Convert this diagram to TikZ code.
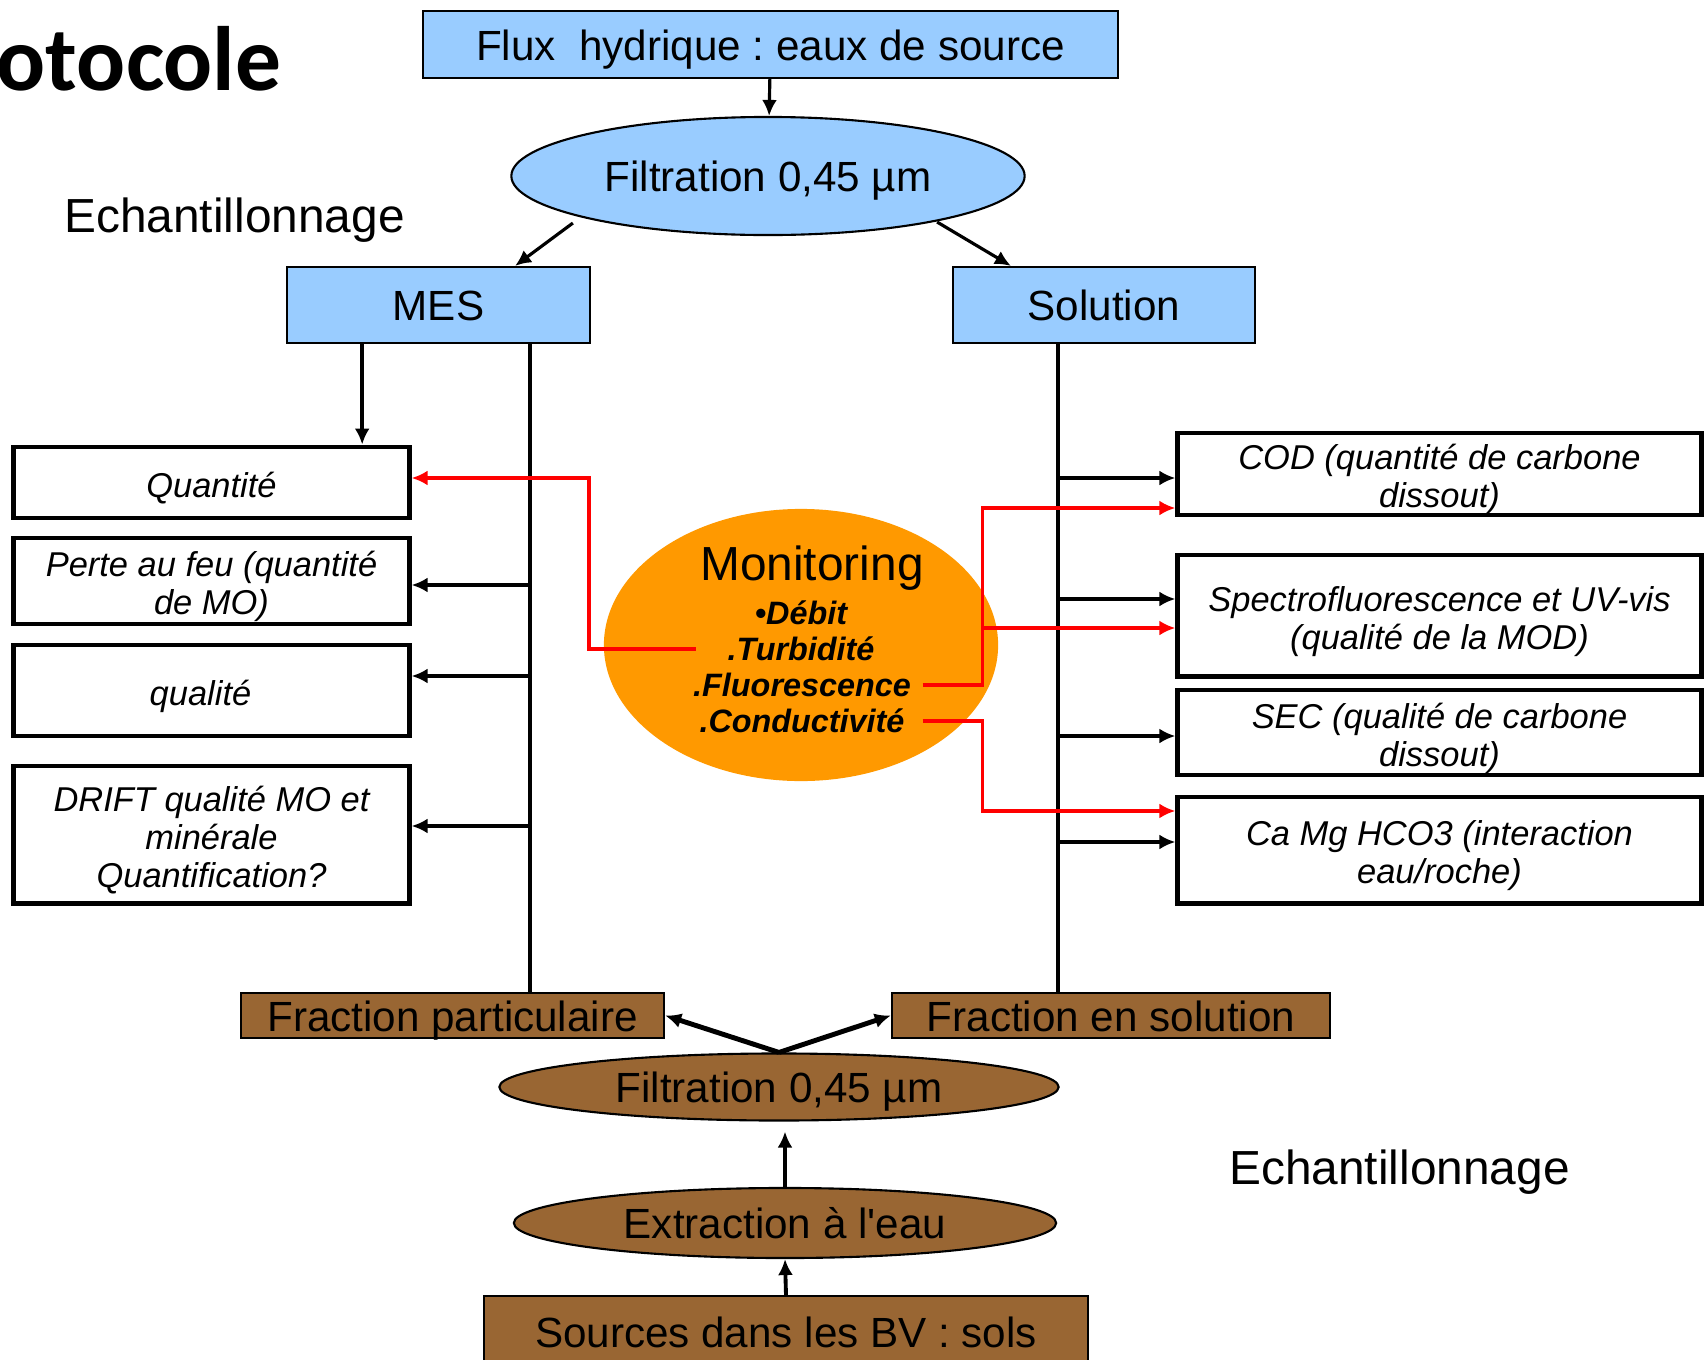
\documentclass[tikz,border=0pt]{standalone}
\usepackage{fontspec}
\setmainfont{Liberation Sans}
\newfontfamily\titlefont{Carlito}
\usepackage{xcolor}
\usepackage{tikz}
\usetikzlibrary{shapes.geometric,calc,arrows.meta}

\definecolor{skyfill}{HTML}{99CCFF}
\definecolor{soilfill}{HTML}{996633}
\definecolor{monifill}{HTML}{FF9900}

\begin{document}
\frenchspacing
\begin{tikzpicture}[x=0.01cm, y=-0.01cm,
    bluebox/.style={draw, rectangle, fill=skyfill, line width=0.6pt, inner sep=0pt, text height=0.98em, text depth=0.08em, font=\fontsize{12}{14}\selectfont},
    soilbox/.style={draw, rectangle, fill=soilfill, line width=0.6pt, inner sep=0pt, text height=0.98em, text depth=0.08em, font=\fontsize{12}{14}\selectfont},
    filtre/.style={draw, ellipse, line width=0.6pt, inner sep=0pt, text height=0.98em, text depth=0.08em, font=\fontsize{12}{14}\selectfont},
    result/.style={draw, rectangle, line width=1.4pt, inner sep=0pt, minimum width=39.5mm, align=center, text height=10.3pt, font=\itshape\fontsize{9.8}{10.8}\selectfont},
    twolines/.style={text height=21.1pt},
    threelines/.style={text height=31.9pt},
    bigtext/.style={inner sep=0pt, text height=1em, text depth=0.1em, font=\fontsize{13.6}{16}\selectfont},
    item/.style={inner sep=0pt, font=\bfseries\itshape\fontsize{9.2}{11}\selectfont},
    arrow/.style={-{Latex[length=1.6mm,width=1.5mm]}, line width=1.1pt},
    bus/.style={line width=1.1pt},
    redarrow/.style={arrow, red}
  ]
    \clip (0,0) rectangle (1705,1360);

    % Title
    \node[anchor=base east, inner sep=0pt, font=\titlefont\bfseries\fontsize{26}{30}\selectfont] (titre) at (282,90) {otocole};

    % Nodes
    \node[bluebox, minimum width=69.5mm, minimum height=6.7mm] (flux) at (770.5,44.5) {Flux~~hydrique : eaux de source};
    \node[filtre, fill=skyfill, minimum width=51.3mm, minimum height=11.8mm] (filt1) at (768,176) {Filtration 0,45 µm};
    \node[bigtext] (echL) at (234.5,217) {Echantillonnage};
    \node[bluebox, minimum width=30.3mm, minimum height=7.6mm] (mes) at (438.5,305) {MES};
    \node[bluebox, minimum width=30.2mm, minimum height=7.6mm] (sol) at (1104,305) {Solution};

    % MES analyses
    \node[result, minimum height=7.1mm] (qte) at (211.5,482.5) {Quantité};
    \node[result, twolines, minimum height=8.6mm] (perte) at (211.5,581) {Perte au feu (quantité\\de MO)};
    \node[result, minimum height=9.1mm] (qual) at (211.5,690.5) {qualité\hspace{2.2mm}};
    \node[result, threelines, minimum height=13.7mm] (drift) at (211.5,834.5) {DRIFT qualité MO et\\minérale\\Quantification?};

    % Solution analyses
    \node[result, twolines, minimum width=52.3mm, minimum height=8.2mm] (cod) at (1439.5,474) {COD (quantité de carbone\\dissout)};
    \node[result, twolines, minimum width=52.3mm, minimum height=12.1mm] (spec) at (1439.5,615.5) {Spectrofluorescence et UV-vis\\(qualité de la MOD)};
    \node[result, twolines, minimum width=52.3mm, minimum height=8.5mm] (sec) at (1439.5,732.5) {SEC (qualité de carbone\\dissout)};
    \node[result, twolines, minimum width=52.3mm, minimum height=10.6mm] (camg) at (1439.5,850) {Ca Mg HCO3 (interaction\\eau/roche)};

    % Monitoring
    \node[ellipse, fill=monifill, minimum width=39.4mm, minimum height=27.2mm, inner sep=0pt] (moni) at (801,645) {};
    \node[bigtext] (monit) at (812,565) {Monitoring};
    \node[item] (deb) at (801,613) {•Débit};
    \node[item] (turb) at (801,649) {.Turbidité};
    \node[item] (fluo) at (802,685) {.Fluorescence};
    \node[item] (cond) at (802,721) {.Conductivité};

    % Soils
    \node[soilbox, minimum width=42.3mm, minimum height=4.5mm] (fpart) at (452.5,1015.5) {Fraction particulaire};
    \node[soilbox, minimum width=43.8mm, minimum height=4.5mm] (fsol) at (1111,1015.5) {Fraction en solution};
    \node[filtre, fill=soilfill, minimum width=55.9mm, minimum height=6.7mm] (filt2) at (779,1087) {Filtration 0,45 µm};
    \node[filtre, fill=soilfill, minimum width=54.2mm, minimum height=7mm] (extr) at (785,1223) {Extraction à l\textquotesingle eau};
    \node[soilbox, minimum width=60.4mm, minimum height=7.2mm] (src) at (786,1332) {Sources dans les BV : sols};
    \node[bigtext] (echR) at (1399.5,1169) {Echantillonnage};

    % Arrow ends
    \coordinate (mesA) at ($(mes.south west)!0.25!(mes.south east)$);
    \coordinate (mesbus) at ($(mes.south west)!0.8!(mes.south east)$);
    \coordinate (solbus) at ($(sol.south west)!0.348!(sol.south east)$);
    \coordinate (qteRed) at ([yshift=0.45mm]qte.east);
    \coordinate (perteIn) at ([yshift=-0.4mm]perte.east);
    \coordinate (qualIn) at ([yshift=1.45mm]qual.east);
    \coordinate (driftIn) at ([yshift=0.85mm]drift.east);
    \coordinate (codIn) at ([yshift=-0.4mm]cod.west);
    \coordinate (codRed) at ([yshift=-3.4mm]cod.west);
    \coordinate (specIn) at ([yshift=1.65mm]spec.west);
    \coordinate (specRed) at ([yshift=-1.25mm]spec.west);
    \coordinate (secIn) at ([yshift=-0.35mm]sec.west);
    \coordinate (camgRed) at ([yshift=3.9mm]camg.west);
    \coordinate (camgIn) at ([yshift=0.8mm]camg.west);

    % Arrows
    \draw[arrow, line width=0.9pt] (flux) -- (filt1);
    \draw[arrow, line width=0.9pt] ([xshift=-19.5mm,yshift=-4.7mm]filt1.center) -- ([xshift=7.65mm]mes.north);
    \draw[arrow, line width=0.9pt] ([xshift=16.9mm,yshift=-4.6mm]filt1.center) -- ([xshift=-9.3mm]sol.north);

    % MES side
    \draw[arrow] (mesA) -- (mesA |- qte.north);
    \draw[bus] (mesbus) -- (mesbus |- fpart.north);
    \draw[arrow] (mesbus |- perteIn) -- (perteIn);
    \draw[arrow] (mesbus |- qualIn) -- (qualIn);
    \draw[arrow] (mesbus |- driftIn) -- (driftIn);

    % Solution side
    \draw[bus] (solbus) -- (solbus |- fsol.north);
    \draw[arrow] (solbus |- codIn) -- (codIn);
    \draw[arrow] (solbus |- specIn) -- (specIn);
    \draw[arrow] (solbus |- secIn) -- (secIn);
    \draw[arrow] (solbus |- camgIn) -- (camgIn);

    % Monitoring links
    \draw[redarrow] ([xshift=-3.1mm]turb.west) -- ++(-10.7mm,0) |- (qteRed);
    \draw[redarrow] ([xshift=1.1mm]fluo.east) -- ++(6mm,0) coordinate (rbus) |- (codRed);
    \draw[redarrow] (rbus |- specRed) -- (specRed);
    \draw[redarrow] ([xshift=1.75mm]cond.east) -- (rbus |- cond.east) |- (camgRed);

    % Soil side
    \draw[arrow, line width=1.4pt] (filt2.north) -- (fpart.east);
    \draw[arrow, line width=1.4pt] (filt2.north) -- (fsol.west);
    \draw[arrow, shorten >=1mm] (extr.north) -- (extr.north |- filt2.south);
    \draw[arrow] (src.north) -- (extr.south);
  \end{tikzpicture}
\end{document}
